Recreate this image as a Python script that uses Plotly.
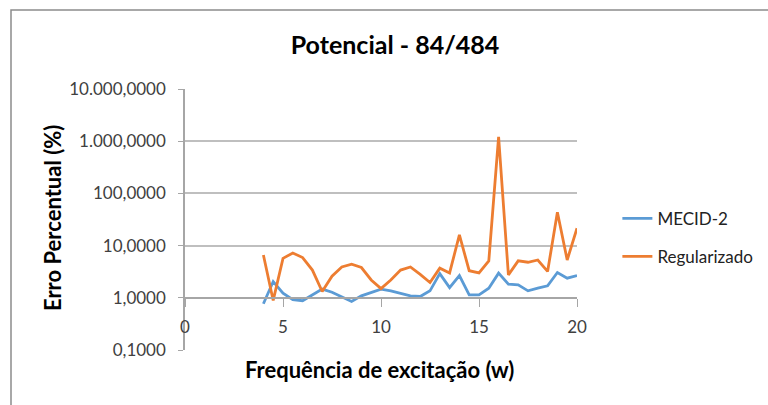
import plotly.graph_objects as go

freq = [4, 4.5, 5, 5.5, 6, 6.5, 7, 7.5, 8, 8.5, 9, 9.5, 10, 10.5, 11, 11.5, 12,
        12.5, 13, 13.5, 14, 14.5, 15, 15.5, 16, 16.5, 17, 17.5, 18, 18.5, 19, 19.5, 20]

mecid2 = [0.77, 2.05, 1.23, 0.92, 0.88, 1.14, 1.47, 1.28, 1.06, 0.85, 1.09, 1.26, 1.47,
          1.36, 1.23, 1.09, 1.06, 1.36, 2.9, 1.57, 2.67, 1.14, 1.14, 1.53, 2.97, 1.83,
          1.77, 1.36, 1.53, 1.7, 3.05, 2.38, 2.67]

regularizado = [6.6, 0.89, 5.7, 7.2, 5.9, 3.4, 1.32, 2.6, 3.9, 4.4, 3.8, 2.2, 1.5,
                2.2, 3.4, 3.9, 2.8, 1.96, 3.7, 3.0, 16.0, 3.3, 3.0, 5.1, 1210.0, 2.75,
                5.1, 4.8, 5.3, 3.2, 43.5, 5.3, 21.5]

y_tickvals = [0.1, 1, 10, 100, 1000, 10000]
y_ticktext = ["0,1000", "1,0000", "10,0000", "100,0000", "1.000,0000", "10.000,0000"]
x_tickvals = [0, 5, 10, 15, 20]

FONT = "Lato, Open Sans, sans-serif"

fig = go.Figure()
fig.add_trace(go.Scatter(x=freq, y=mecid2, mode="lines", name="MECID-2",
                         legendgroup="a",
                         line=dict(color="#5B9BD5", width=2.8)))
fig.add_trace(go.Scatter(x=freq, y=regularizado, mode="lines", name="Regularizado",
                         legendgroup="b",
                         line=dict(color="#ED7D31", width=2.8)))

fig.update_layout(
    width=768, height=405,
    margin=dict(l=185, r=191, t=89, b=55, autoexpand=False),
    paper_bgcolor="white", plot_bgcolor="white",
    font=dict(family=FONT, size=17, color="#404040"),
    title=dict(text="<b>Potencial - 84/484</b>", x=395/768, xref="container",
               xanchor="center", y=1-45/405, yref="container", yanchor="middle",
               font=dict(family=FONT, size=25, color="#000000")),
    legend=dict(x=1.103, y=0.43, xanchor="left", yanchor="middle",
                tracegroupgap=13, font=dict(family=FONT, size=17, color="#222222"),
                bgcolor="rgba(0,0,0,0)"),
    xaxis=dict(range=[0, 20], tickvals=x_tickvals, anchor="free", position=0.2,
               showgrid=False, zeroline=False, showline=True, linecolor="#a6a6a6",
               linewidth=1.5, ticks="outside", ticklen=8, tickcolor="#a6a6a6",
               ticklabelstandoff=6,
               tickfont=dict(family=FONT, size=17, color="#404040")),
    yaxis=dict(type="log", range=[-1, 4], tickvals=y_tickvals, ticktext=y_ticktext,
               showgrid=True, gridcolor="#bfbfbf", gridwidth=1.5,
               showline=True, linecolor="#a6a6a6", linewidth=1.5,
               ticks="outside", ticklen=5, tickcolor="#a6a6a6",
               ticklabelstandoff=9,
               tickfont=dict(family=FONT, size=17, color="#404040")),
    annotations=[
        dict(text="<b>Frequência de excitação (w)</b>", xref="paper", yref="paper",
             x=(379-185)/392, y=(350-369)/261, xanchor="center", yanchor="middle",
             showarrow=False, font=dict(family=FONT, size=22, color="#000000")),
        dict(text="<b>Erro Percentual (%)</b>", xref="paper", yref="paper",
             x=(52-185)/392, y=(350-218)/261, xanchor="center", yanchor="middle",
             textangle=-90, showarrow=False,
             font=dict(family=FONT, size=22, color="#000000")),
    ],
    shapes=[
        dict(type="rect", xref="paper", yref="paper",
             x0=(11-185)/392, x1=1.6, y0=-0.3, y1=(350-10)/261,
             line=dict(color="#8c8c8c", width=1.5), fillcolor="rgba(0,0,0,0)",
             layer="below"),
    ],
)

fig.write_html("out.html", config={"displayModeBar": False},
               post_script="document.body.style.margin='0';")
